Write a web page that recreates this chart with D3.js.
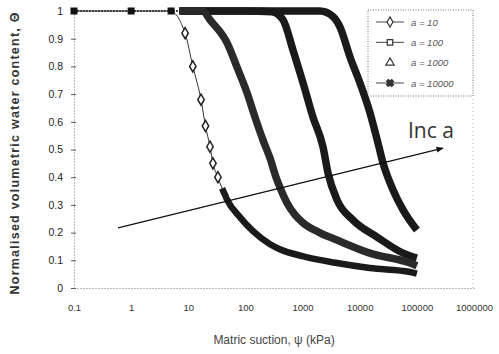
<!DOCTYPE html>
<html>
<head>
<meta charset="utf-8">
<script src="https://cdn.jsdelivr.net/npm/d3@7"></script>
<style>
  body { margin: 0; background: #fff; }
  svg { display: block; font-family: "Liberation Sans", Arial, sans-serif; }
</style>
</head>
<body>
<script>
// values
const seriesNames = ['a = 10', 'a = 100', 'a = 1000', 'a = 10000'];

const suctionA10 = [0.1, 1, 4.8, 8.8, 12, 16.7, 20, 24, 27, 33, 39, 44, 48, 80, 136, 270, 400, 1000, 4000, 15000, 76000, 100000];
const thetaA10   = [1, 1, 1, 0.92, 0.80, 0.68, 0.585, 0.51, 0.45, 0.40, 0.36, 0.336, 0.318, 0.256, 0.205, 0.158, 0.14, 0.115, 0.09, 0.072, 0.058, 0.052];

const suctionA100 = [0.1, 1, 5, 7, 18, 24, 48, 71, 107, 147, 203, 269, 343, 420, 535, 738, 1020, 2020, 4000, 15000, 76000, 100000];
const thetaA100   = [1, 1, 1, 1, 1, 0.968, 0.884, 0.798, 0.704, 0.617, 0.534, 0.469, 0.40, 0.354, 0.307, 0.264, 0.235, 0.199, 0.173, 0.126, 0.09, 0.08];

const suctionA1000 = [0.1, 1, 5, 7, 100, 290, 455, 680, 1020, 1520, 2280, 2790, 4010, 7640, 20100, 57300, 100000];
const thetaA1000   = [1, 1, 1, 1, 1, 0.997, 0.968, 0.859, 0.74, 0.617, 0.509, 0.415, 0.318, 0.245, 0.184, 0.126, 0.108];

const suctionA10000 = [0.1, 1, 5, 7, 100, 2020, 3410, 4520, 6760, 10100, 15150, 20900, 25600, 38300, 57300, 100000];
const thetaA10000   = [1, 1, 1, 1, 1, 1, 0.98, 0.942, 0.834, 0.74, 0.632, 0.523, 0.451, 0.354, 0.282, 0.209];

const xTicks = [0.1, 1, 10, 100, 1000, 10000, 100000, 1000000];
const yTicks = [0, 0.1, 0.2, 0.3, 0.4, 0.5, 0.6, 0.7, 0.8, 0.9, 1];

// "Inc a" arrow, in data units
const arrowSuction = [0.59, 287000];
const arrowTheta = [0.217, 0.505];

const width = 499, height = 354;
const margin = { top: 11, right: 25, bottom: 66, left: 74 };

const svg = d3.select('body').append('svg')
  .attr('width', width)
  .attr('height', height);

const x = d3.scaleLog()
  .domain([0.1, 1000000])
  .range([margin.left, width - margin.right]);

const y = d3.scaleLinear()
  .domain([0, 1])
  .range([height - margin.bottom, margin.top]);

// plot frame (faint dotted)
svg.append('line')
  .attr('x1', x(1000000) - 1).attr('x2', x(1000000) - 1)
  .attr('y1', y(1)).attr('y2', y(0))
  .attr('stroke', '#bbb').attr('stroke-dasharray', '1,3');

// axes
const yAxis = svg.append('g')
  .attr('transform', `translate(${margin.left},0)`)
  .call(d3.axisLeft(y)
    .tickValues(yTicks)
    .tickFormat(d => (d === 0 || d === 1) ? d : d.toFixed(1))
    .tickSizeInner(3).tickSizeOuter(0).tickPadding(8));
yAxis.select('.domain').attr('stroke', '#777').attr('stroke-dasharray', '1,2');
yAxis.selectAll('.tick line').attr('stroke', '#555').attr('x2', 2).attr('x1', -3);
yAxis.selectAll('text').attr('font-size', 10.5).attr('fill', '#222');

const xAxis = svg.append('g')
  .attr('transform', `translate(0,${y(0)})`)
  .call(d3.axisBottom(x)
    .tickValues(xTicks)
    .tickFormat(d => d < 1 ? '0.1' : d3.format('d')(d))
    .tickSize(0).tickPadding(16));
xAxis.select('.domain').attr('stroke', '#777').attr('stroke-dasharray', '1,2');
xAxis.selectAll('text').attr('font-size', 9.5).attr('fill', '#333');

// axis titles
svg.append('text')
  .attr('transform', `translate(19,${(y(0) + y(1)) / 2 + 4}) rotate(-90)`)
  .attr('text-anchor', 'middle')
  .attr('font-size', 12.5)
  .attr('font-weight', 'bold')
  .attr('fill', '#333')
  .attr('textLength', 282)
  .text('Normalised volumetric water content, \u0398');

svg.append('text')
  .attr('x', 274).attr('y', 344)
  .attr('text-anchor', 'middle')
  .attr('font-size', 12)
  .attr('fill', '#444')
  .text('Matric suction, \u03c8 (kPa)');

// series
const series = [
  { name: seriesNames[0], s: suctionA10, t: thetaA10, denseFrom: 39 },
  { name: seriesNames[1], s: suctionA100, t: thetaA100, denseFrom: 7 },
  { name: seriesNames[2], s: suctionA1000, t: thetaA1000, denseFrom: 7 },
  { name: seriesNames[3], s: suctionA10000, t: thetaA10000, denseFrom: 7 }
];
series.forEach(d => { d.points = d.s.map((v, i) => ({ s: v, t: d.t[i] })); });

const line = d3.line()
  .x(p => x(p.s))
  .y(p => y(p.t))
  .curve(d3.curveMonotoneX);

// thin connecting lines
series.forEach(d => {
  svg.append('path')
    .attr('d', line(d.points))
    .attr('fill', 'none')
    .attr('stroke', '#333')
    .attr('stroke-width', 1)
    .attr('stroke-dasharray', d.name === 'a = 10' ? null : '2,1');
});

// dense marker bands
series.slice().reverse().forEach(d => {
  svg.append('path')
    .attr('d', line(d.points.filter(p => p.s >= d.denseFrom)))
    .attr('fill', 'none')
    .attr('stroke', d.name === 'a = 100' ? '#2a2a2a' : '#1a1a1a')
    .attr('stroke-width', d.name === 'a = 10' ? 6.5 : 7.5)
    .attr('stroke-linecap', 'butt');
});

// sparse markers on a = 10
svg.append('g').selectAll('path')
  .data(series[0].points.filter(p => p.s > 5 && p.s < 39))
  .join('path')
  .attr('transform', p => `translate(${x(p.s)},${y(p.t)})`)
  .attr('d', d3.symbol(d3.symbolDiamond, 36))
  .attr('fill', '#fff')
  .attr('stroke', '#222')
  .attr('stroke-width', 1.5);

// square markers on the flat start
svg.append('g').selectAll('rect')
  .data(series[1].points.filter(p => p.s <= 5))
  .join('rect')
  .attr('x', p => x(p.s) - 3.5)
  .attr('y', p => y(p.t) - 3.5)
  .attr('width', 7).attr('height', 7)
  .attr('fill', '#111');

// arrow
svg.append('defs').append('marker')
  .attr('id', 'arr')
  .attr('viewBox', '0 0 10 10')
  .attr('refX', 9).attr('refY', 5)
  .attr('markerWidth', 8).attr('markerHeight', 6)
  .attr('orient', 'auto')
  .append('path')
  .attr('d', 'M0,1 L10,5 L0,9 Z')
  .attr('fill', '#111');

svg.append('line')
  .attr('x1', x(arrowSuction[0])).attr('y1', y(arrowTheta[0]))
  .attr('x2', x(arrowSuction[1])).attr('y2', y(arrowTheta[1]))
  .attr('stroke', '#111')
  .attr('stroke-width', 1.2)
  .attr('marker-end', 'url(#arr)');

svg.append('text')
  .attr('x', 408).attr('y', 138)
  .attr('font-family', '"Open Sans", sans-serif')
  .attr('font-size', 21)
  .attr('fill', '#333')
  .text('Inc a');

// legend
const lg = svg.append('g');
lg.append('rect')
  .attr('x', 368).attr('y', 10)
  .attr('width', 105).attr('height', 86)
  .attr('fill', '#fff')
  .attr('stroke', '#777')
  .attr('stroke-dasharray', '1,1.5');

const legendY = d3.scalePoint().domain(seriesNames).range([22, 83]);
const legendSymbols = [d3.symbolDiamond, d3.symbolSquare, d3.symbolTriangle, d3.symbolCross];

seriesNames.forEach((name, i) => {
  const ly = legendY(name);
  if (i !== 2) {
    lg.append('line')
      .attr('x1', 376).attr('x2', 404)
      .attr('y1', ly).attr('y2', ly)
      .attr('stroke', '#444').attr('stroke-width', 1);
  }
  lg.append('path')
    .attr('transform', `translate(390,${ly}) rotate(${i === 3 ? 45 : 0})`)
    .attr('d', d3.symbol(legendSymbols[i], 30))
    .attr('fill', i === 3 ? '#333' : '#fff')
    .attr('stroke', '#333')
    .attr('stroke-width', 1.2);
  lg.append('text')
    .attr('x', 411).attr('y', ly + 3.5)
    .attr('font-size', 9.5)
    .attr('font-style', 'italic')
    .attr('fill', '#555')
    .text(name);
});
</script>
</body>
</html>
